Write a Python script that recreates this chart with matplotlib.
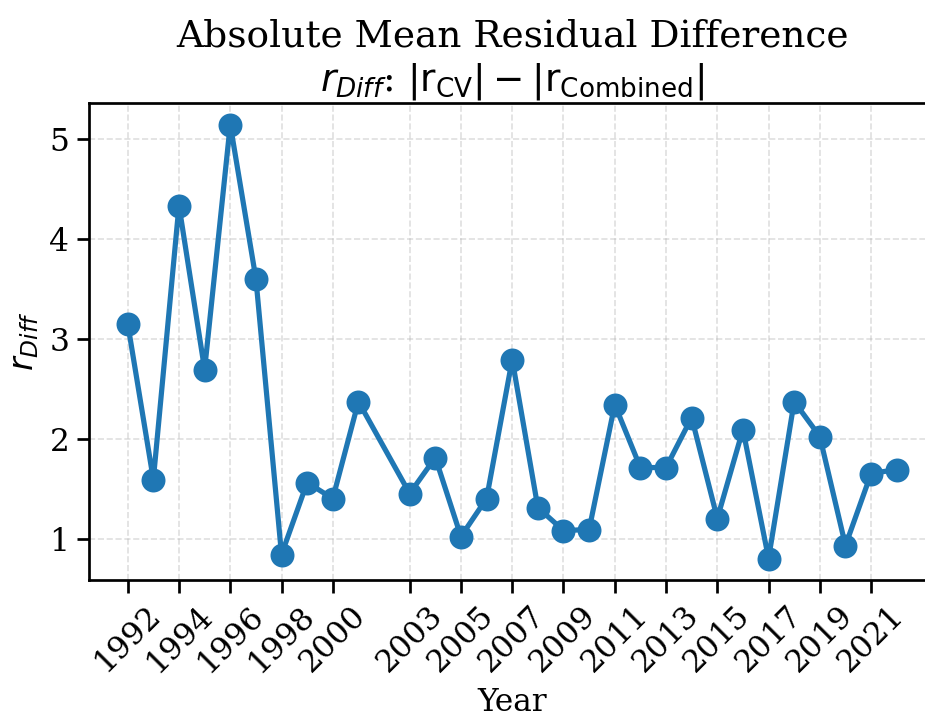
import matplotlib
matplotlib.use('Agg')
import matplotlib.pyplot as plt

# Data
years = [1992, 1993, 1994, 1995, 1996, 1997, 1998, 1999, 2000, 2001,
         2003, 2004, 2005, 2006, 2007, 2008, 2009, 2010, 2011, 2012,
         2013, 2014, 2015, 2016, 2017, 2018, 2019, 2020, 2021, 2022]
r_diff = [3.15, 1.59, 4.33, 2.69, 5.14, 3.60, 0.84, 1.56, 1.40, 2.37,
          1.45, 1.81, 1.02, 1.40, 2.79, 1.31, 1.08, 1.09, 2.34, 1.71,
          1.71, 2.21, 1.20, 2.09, 0.80, 2.37, 2.02, 0.93, 1.65, 1.69]
tick_years = years[::2]

plt.rcParams['font.family'] = 'DejaVu Serif'

fig, ax = plt.subplots(figsize=(925 / 150, 719 / 150), dpi=150)
# the original was cropped on the right, so the axes run past the edge
fig.subplots_adjust(left=0.0965, right=1.011, top=0.857, bottom=0.193)

ax.plot(years, r_diff, 'o-', color='#1f77b4', linewidth=2.5, markersize=10.5)

ax.set_xticks(tick_years)
ax.set_xticklabels([str(y) for y in tick_years], rotation=45, fontsize=15)
ax.tick_params(axis='y', labelsize=15)
ax.tick_params(width=1.3, length=6)
for s in ax.spines.values():
    s.set_linewidth(1.3)

ax.set_xlabel('Year', fontsize=15)
ax.set_ylabel(r'$r_{Diff}$', fontsize=16)
ax.set_title('Absolute Mean Residual Difference\n'
             r'$r_{Diff}$: $|\mathrm{r}_{\mathrm{CV}}| - |\mathrm{r}_{\mathrm{Combined}}|$',
             fontsize=18)
ax.grid(True, linestyle='--', alpha=0.4)

plt.savefig('out.png', dpi=150)
